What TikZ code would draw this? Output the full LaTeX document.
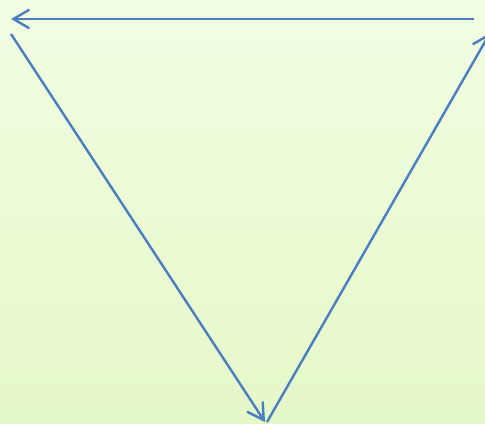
\documentclass[tikz,border=0pt]{standalone}
\usepackage{xcolor}
\usepackage{tikz}
\usetikzlibrary{arrows.meta}
\definecolor{CycleBlue}{HTML}{4A7EC1}
\definecolor{CycleTop}{HTML}{F1FDE2}
\definecolor{CycleBottom}{HTML}{E5F8C8}

\begin{document}
\begin{tikzpicture}[x=0.75pt,y=-0.75pt,>={Straight Barb[length=12pt,width=14pt]}]
  \shade[top color=CycleTop,bottom color=CycleBottom] (0,0) rectangle (485,424);
  \useasboundingbox (0,0) rectangle (485,424);
  \coordinate (topR) at (474,19);
  \coordinate (topL) at (11,19);
  \coordinate (leftS) at (11,34);
  \coordinate (bot) at (265,422);
  \coordinate (botR) at (267,422);
  \coordinate (rightE) at (490,33);
  \draw[CycleBlue,line width=1.8pt,->] (topR) -- (topL);
  \draw[CycleBlue,line width=1.8pt,->] (leftS) -- (bot);
  \draw[CycleBlue,line width=1.8pt,->] (botR) -- (rightE);
\end{tikzpicture}
\end{document}
